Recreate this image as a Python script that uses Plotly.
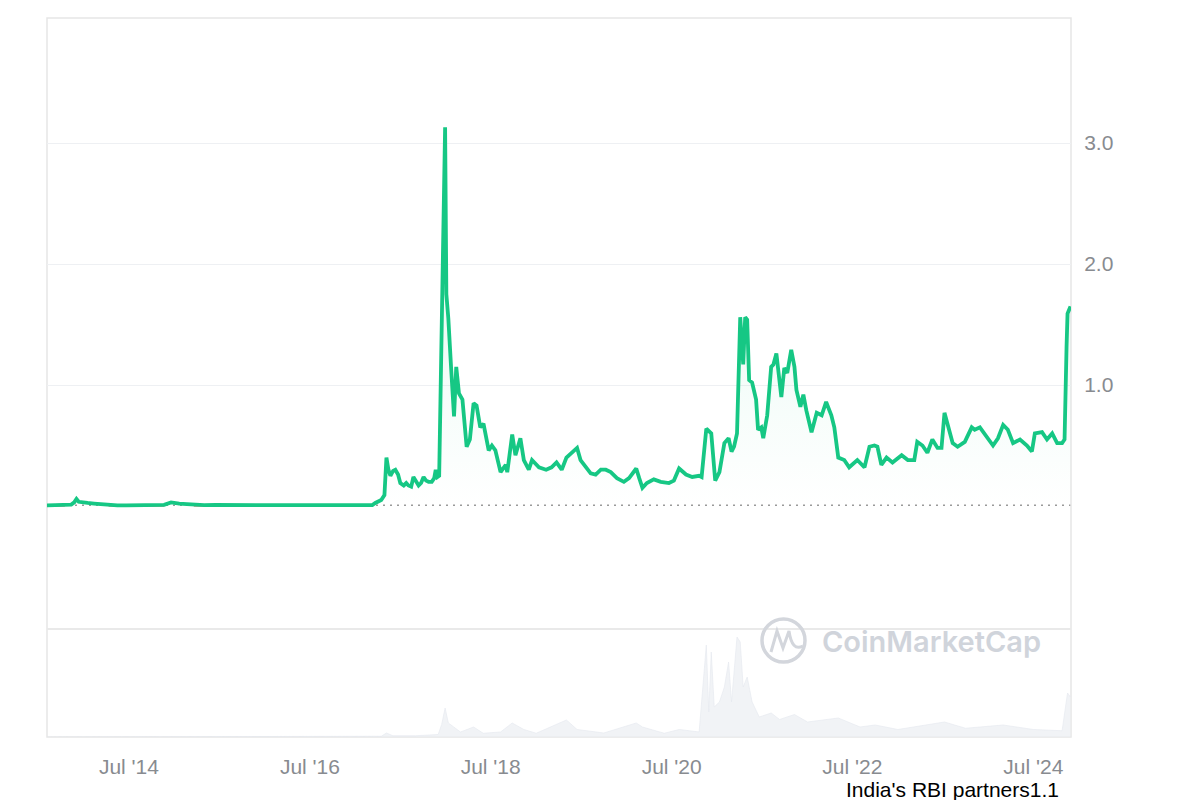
import plotly.graph_objects as go

# ---------------- data ----------------
dates = [
    "2013-08-04", "2013-09-10", "2013-10-15", "2013-11-10", "2013-11-22", "2013-12-01",
    "2013-12-10", "2013-12-25", "2014-01-15", "2014-02-10", "2014-03-10", "2014-04-10",
    "2014-05-15", "2014-06-20", "2014-08-01", "2014-09-15", "2014-10-20", "2014-11-20",
    "2014-12-18", "2014-12-30", "2015-01-20", "2015-02-20", "2015-03-20", "2015-05-01",
    "2015-06-15", "2015-08-01", "2015-09-15", "2015-11-01", "2015-12-15", "2016-02-01",
    "2016-04-01", "2016-06-01", "2016-08-01", "2016-10-01", "2016-12-01", "2017-01-15",
    "2017-02-24", "2017-03-10", "2017-03-22", "2017-04-15", "2017-04-28", "2017-05-06",
    "2017-05-14", "2017-05-22", "2017-06-02", "2017-06-11", "2017-06-22", "2017-07-01",
    "2017-07-15", "2017-07-25", "2017-08-03", "2017-08-14", "2017-08-23", "2017-09-02",
    "2017-09-13", "2017-09-23", "2017-10-03", "2017-10-13", "2017-10-23", "2017-11-05",
    "2017-11-15", "2017-11-21", "2017-11-28", "2017-12-05", "2017-12-15", "2017-12-29",
    "2018-01-03", "2018-01-11", "2018-01-22", "2018-02-03", "2018-02-12", "2018-02-23",
    "2018-03-09", "2018-03-17", "2018-03-26", "2018-04-08", "2018-04-23", "2018-05-05",
    "2018-05-20", "2018-06-02", "2018-06-23", "2018-07-06", "2018-07-20", "2018-08-10",
    "2018-08-31", "2018-09-06", "2018-09-26", "2018-10-09", "2018-10-29", "2018-11-12",
    "2018-12-02", "2018-12-15", "2019-01-12", "2019-02-10", "2019-03-04", "2019-03-24",
    "2019-04-14", "2019-05-03", "2019-05-24", "2019-06-09", "2019-06-15", "2019-06-29",
    "2019-07-19", "2019-08-09", "2019-08-29", "2019-09-19", "2019-10-09", "2019-10-29",
    "2019-11-23", "2019-12-21", "2020-01-11", "2020-02-09", "2020-02-21", "2020-03-05",
    "2020-03-23", "2020-04-20", "2020-05-18", "2020-06-20", "2020-07-10", "2020-07-31",
    "2020-08-28", "2020-09-22", "2020-10-20", "2020-10-30", "2020-11-18", "2020-12-08",
    "2020-12-24", "2021-01-10", "2021-01-30", "2021-02-16", "2021-02-28", "2021-03-10",
    "2021-03-22", "2021-04-04", "2021-04-16", "2021-04-24", "2021-05-02", "2021-05-10",
    "2021-05-22", "2021-06-07", "2021-06-15", "2021-06-28", "2021-07-06", "2021-07-22",
    "2021-08-07", "2021-08-16", "2021-08-28", "2021-09-05", "2021-09-17", "2021-09-29",
    "2021-10-11", "2021-10-27", "2021-11-09", "2021-11-17", "2021-12-03", "2021-12-15",
    "2021-12-27", "2022-01-17", "2022-02-07", "2022-02-27", "2022-03-17", "2022-04-07",
    "2022-04-19", "2022-05-05", "2022-05-29", "2022-06-18", "2022-07-21", "2022-08-19",
    "2022-09-08", "2022-09-28", "2022-10-10", "2022-10-26", "2022-11-16", "2022-12-10",
    "2023-01-16", "2023-02-10", "2023-03-08", "2023-03-20", "2023-04-10", "2023-04-30",
    "2023-05-20", "2023-06-10", "2023-06-26", "2023-07-08", "2023-07-20", "2023-08-10",
    "2023-08-30", "2023-09-28", "2023-10-26", "2023-11-07", "2023-11-28", "2023-12-18",
    "2024-01-20", "2024-02-09", "2024-03-01", "2024-03-20", "2024-04-10", "2024-05-08",
    "2024-06-05", "2024-06-25", "2024-07-07", "2024-08-05", "2024-08-25", "2024-09-15",
    "2024-10-05", "2024-10-25", "2024-11-04", "2024-11-12", "2024-11-16", "2024-11-22",
    "2024-11-28",
]
price = [
    0.0058, 0.0055, 0.0052, 0.012, 0.030, 0.058,
    0.035, 0.028, 0.025, 0.020, 0.014, 0.010,
    0.0060, 0.0058, 0.0050, 0.0050, 0.0060, 0.010,
    0.030, 0.024, 0.019, 0.015, 0.011, 0.0080,
    0.010, 0.0085, 0.0070, 0.0050, 0.0060, 0.0075,
    0.0065, 0.0065, 0.0065, 0.0075, 0.0065, 0.0065,
    0.0062, 0.0080, 0.025, 0.050, 0.09, 0.40,
    0.30, 0.25, 0.29, 0.30, 0.26, 0.19,
    0.17, 0.19, 0.17, 0.16, 0.24, 0.21,
    0.17, 0.19, 0.24, 0.21, 0.20, 0.20,
    0.23, 0.30, 0.24, 0.25, 1.35, 3.13,
    1.75, 1.55, 1.15, 0.74, 1.15, 0.93,
    0.88, 0.71, 0.49, 0.55, 0.85, 0.83,
    0.65, 0.68, 0.46, 0.50, 0.46, 0.28,
    0.34, 0.28, 0.59, 0.42, 0.56, 0.38,
    0.30, 0.38, 0.32, 0.30, 0.32, 0.36,
    0.30, 0.40, 0.44, 0.46, 0.48, 0.38,
    0.32, 0.27, 0.26, 0.30, 0.30, 0.28,
    0.23, 0.20, 0.23, 0.31, 0.23, 0.15,
    0.19, 0.22, 0.20, 0.19, 0.21, 0.31,
    0.26, 0.24, 0.25, 0.24, 0.64, 0.60,
    0.21, 0.28, 0.52, 0.56, 0.45, 0.49,
    0.60, 1.56, 1.17, 1.56, 1.54, 1.04,
    1.02, 0.88, 0.63, 0.65, 0.56, 0.75,
    1.15, 1.17, 1.26, 1.10, 0.90, 1.14,
    1.10, 1.29, 1.15, 0.96, 0.82, 0.92,
    0.79, 0.61, 0.77, 0.75, 0.86, 0.75,
    0.65, 0.40, 0.38, 0.32, 0.38, 0.32,
    0.49, 0.50, 0.49, 0.34, 0.40, 0.36,
    0.42, 0.38, 0.38, 0.53, 0.50, 0.44,
    0.55, 0.48, 0.48, 0.77, 0.67, 0.52,
    0.49, 0.53, 0.65, 0.63, 0.65, 0.59,
    0.50, 0.56, 0.67, 0.63, 0.52, 0.55,
    0.50, 0.45, 0.60, 0.61, 0.55, 0.60,
    0.52, 0.52, 0.55, 1.31, 1.59, 1.62,
    1.65,
]

vol_dates = [
    "2013-08-04", "2017-03-01", "2017-04-15", "2017-05-06", "2017-06-01", "2017-09-01",
    "2017-12-01", "2017-12-15", "2017-12-29", "2018-01-11", "2018-02-03", "2018-03-01",
    "2018-04-23", "2018-06-01", "2018-08-10", "2018-09-26", "2018-11-12", "2019-01-01",
    "2019-05-03", "2019-06-15", "2019-10-01", "2020-02-09", "2020-03-05", "2020-06-01",
    "2020-08-01", "2020-10-20", "2020-11-18", "2020-11-28", "2020-12-08", "2020-12-20",
    "2021-01-10", "2021-01-30", "2021-02-16", "2021-02-28", "2021-03-22", "2021-04-04",
    "2021-04-16", "2021-05-02", "2021-05-22", "2021-06-20", "2021-08-07", "2021-09-10",
    "2021-11-09", "2022-01-01", "2022-05-05", "2022-08-01", "2022-10-01", "2023-01-01",
    "2023-07-08", "2023-10-01", "2024-03-01", "2024-07-01", "2024-10-25", "2024-11-16",
    "2024-11-28",
]
volume_bn = [
    0.0, 0.0, 0.3, 1.6, 0.5, 0.5,
    1.0, 5.0, 11.6, 5.6, 4.0, 2.0,
    4.0, 1.5, 2.0, 5.6, 3.0, 1.5,
    6.8, 3.0, 1.6, 5.6, 4.0, 1.5,
    3.0, 2.0, 36.8, 10.0, 34.0, 12.0,
    14.0, 20.0, 30.0, 14.0, 40.0, 38.0,
    20.0, 24.0, 14.0, 8.0, 9.6, 7.0,
    9.0, 6.0, 7.6, 4.0, 4.8, 3.0,
    6.0, 3.5, 4.8, 3.0, 2.5, 17.6,
    16.0,
]

tick_dates = ["2014-07-01", "2016-07-01", "2018-07-01", "2020-07-01", "2022-07-01", "2024-07-01"]
tick_labels = ["Jul '14", "Jul '16", "Jul '18", "Jul '20", "Jul '22", "Jul '24"]
price_ticks = [1, 2, 3]
price_tick_labels = ["1.0", "2.0", "3.0"]

baseline = price[0]
GREEN = "#16c784"
RED = "#ea3943"
GRID = "#eef0f3"
TICK = "#888b90"
FONT = "Liberation Sans, Arial, sans-serif"

# ---------------- figure ----------------
fig = go.Figure()

# volume (bottom panel)
fig.add_trace(go.Scatter(
    x=vol_dates, y=volume_bn, yaxis="y2", mode="lines",
    line=dict(width=0.6, color="rgba(228,232,238,1)"),
    fill="tozeroy", fillcolor="rgba(236,239,243,0.75)",
    hoverinfo="skip", showlegend=False,
))

# price area fill (gradient)
fig.add_trace(go.Scatter(
    x=dates, y=price, mode="lines",
    line=dict(width=0, color=GREEN),
    fill="tozeroy",
    fillgradient=dict(type="vertical",
                      colorscale=[[0, "rgba(22,199,132,0)"], [1, "rgba(22,199,132,0.14)"]]),
    hoverinfo="skip", showlegend=False,
))

# parts of the price below the opening price are drawn in red
red_part = [min(p, baseline) if p < 0.012 and d < "2017-03-15" else None for d, p in zip(dates, price)]
fig.add_trace(go.Scatter(
    x=dates, y=red_part, mode="lines", line=dict(width=2.4, color=RED),
    connectgaps=False, hoverinfo="skip", showlegend=False,
))

# price line
fig.add_trace(go.Scatter(
    x=dates, y=price, mode="lines",
    line=dict(width=3.8, color=GREEN),
    showlegend=False, name="XRP",
))

# dotted opening-price baseline
fig.add_shape(type="line", xref="paper", yref="y", x0=0, x1=1, y0=baseline, y1=baseline,
              line=dict(color="#9a9a9a", width=1.5, dash="2px,5px"), layer="below")

# outer frame and panel separator
fig.add_shape(type="rect", xref="paper", yref="paper", x0=0, x1=1, y0=0, y1=1,
              line=dict(color="#e6e6e6", width=1.5), layer="below")
fig.add_shape(type="line", xref="paper", yref="paper", x0=0, x1=1, y0=0.1502, y1=0.1502,
              line=dict(color="#e9e9e9", width=2), layer="below")


# CoinMarketCap watermark (positions given in page pixels)
def px(xp):
    return (xp - 47) / 1024.0


def py(yp):
    return (737 - yp) / 719.0


fig.add_shape(type="circle", xref="paper", yref="paper",
              x0=px(762), x1=px(805), y0=py(662), y1=py(619),
              line=dict(color="#d3d6dc", width=3.5), layer="above")
fig.add_shape(type="path", xref="paper", yref="paper",
              path=(f"M {px(771)},{py(652)} L {px(777)},{py(631)} L {px(783)},{py(648)} "
                    f"L {px(789)},{py(631)} Q {px(792)},{py(652)} {px(803)},{py(646)}"),
              line=dict(color="#d3d6dc", width=3), layer="above")
fig.add_annotation(xref="paper", yref="paper", x=px(820), y=py(641), xanchor="left", yanchor="middle",
                   text="CoinMarketCap", showarrow=False,
                   font=dict(family="Inter, Noto Sans, sans-serif", size=29, color="#d0d4db", weight=600))

# footer text
fig.add_annotation(xref="paper", yref="paper", x=px(1061), y=py(789), xanchor="right", yanchor="middle",
                   text="India's RBI partners1.1", showarrow=False,
                   font=dict(family=FONT, size=21, color="#000000"))

fig.update_layout(
    width=1200, height=800, autosize=False,
    margin=dict(l=47, r=129, t=18, b=63),
    paper_bgcolor="white", plot_bgcolor="white",
    font=dict(family=FONT),
    showlegend=False,
    xaxis=dict(
        type="date", range=["2013-08-04", "2024-11-30"], anchor="y2",
        tickvals=tick_dates, ticktext=tick_labels,
        tickfont=dict(size=21, color=TICK),
        showgrid=False, zeroline=False, showline=False,
        ticks="outside", ticklen=11, tickcolor="rgba(0,0,0,0)",
    ),
    yaxis=dict(
        domain=[0.1502, 1], range=[-1.0165, 4.033], side="right", anchor="x",
        tickvals=price_ticks, ticktext=price_tick_labels,
        tickfont=dict(size=21, color=TICK),
        showgrid=True, gridcolor=GRID, gridwidth=1.2,
        zeroline=False, showline=False,
        ticks="outside", ticklen=8, tickcolor="rgba(0,0,0,0)",
    ),
    yaxis2=dict(
        domain=[0, 0.1502], range=[0, 43.2], anchor="x",
        showticklabels=False, showgrid=False, zeroline=False, showline=False,
    ),
)

fig.write_html("out.html", config={"displayModeBar": False},
               post_script="document.body.style.margin='0';")
